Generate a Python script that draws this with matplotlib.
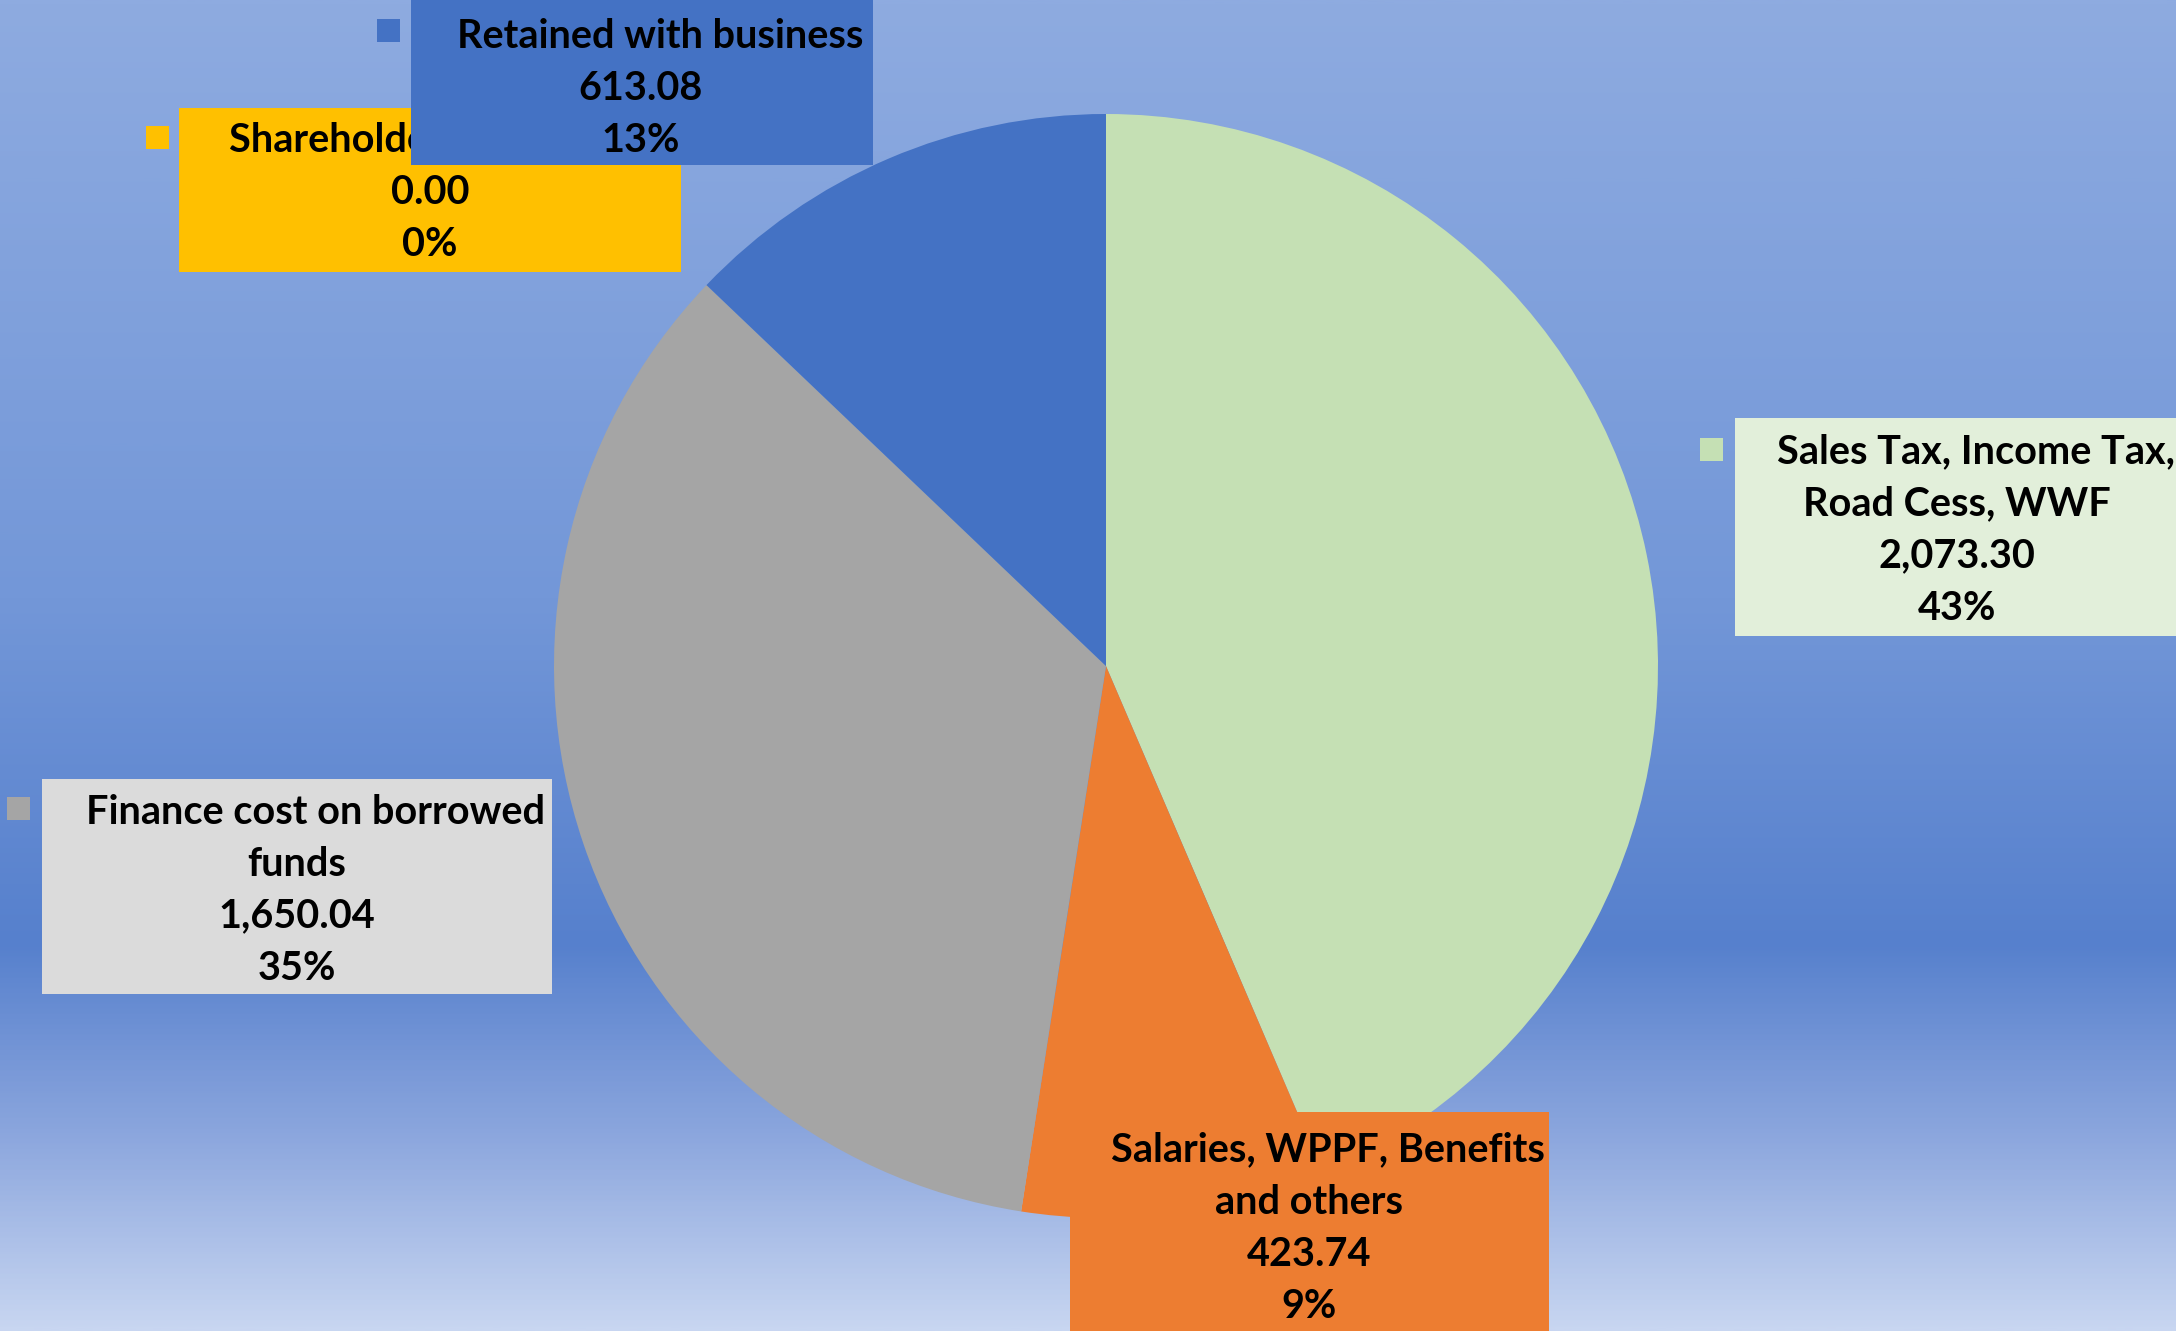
import numpy as np
import matplotlib
matplotlib.use("Agg")
import matplotlib.pyplot as plt
from matplotlib.patches import Rectangle
from matplotlib.colors import LinearSegmentedColormap

# data, clockwise from 12 o'clock
labels = ['Sales Tax, Income Tax,\nRoad Cess, WWF',
          'Salaries, WPPF, Benefits\nand others',
          'Finance cost on borrowed\nfunds',
          'Shareholders as dividend',
          'Retained with business']
values = [2073.30, 423.74, 1650.04, 0.00, 613.08]
pct_labels = ['43%', '9%', '35%', '0%', '13%']
colors = ['#c5e0b4', '#ed7d31', '#a5a5a5', '#ffc000', '#4472c4']
box_colors = ['#e2efda', '#ed7d31', '#dbdbdb', '#ffc000', '#4472c4']

W, H = 2176, 1331
fig = plt.figure(figsize=(W / 100, H / 100), dpi=100)
ax = fig.add_axes([0, 0, 1, 1])

# background gradient (top -> bottom)
bg = LinearSegmentedColormap.from_list('bg', [
    (0.0, '#8eabe0'),
    (0.45, '#7397d8'),
    (0.71, '#5680cd'),
    (0.85, '#8aa5dd'),
    (1.0, '#c8d6f1')])
grad = np.linspace(0, 1, 512).reshape(-1, 1)
ax.imshow(grad, cmap=bg, aspect='auto', origin='upper',
          extent=[0, W, 0, H], zorder=0)

ax.pie(values, colors=colors, startangle=90, counterclock=False,
       center=(1106, H - 666), radius=552, frame=True,
       wedgeprops=dict(linewidth=0))
ax.set_xlim(0, W)
ax.set_ylim(0, H)
ax.set_aspect('equal')
ax.axis('off')

# label boxes: (x0, y0_top, x1, y1_bottom) in pixels from top-left, marker x,y
boxes = [
    (1735, 418, 2180, 636, 1700, 438),
    (1070, 1112, 1549, 1335, None, None),
    (42, 779, 552, 994, 7, 797),
    (179, 108, 681, 272, 146, 126),
    (411, 0, 873, 165, 377, 19),
]
centers = [(1957, 530), (1309, 1228), (297, 890), (430, 193), (641, 88)]
step = 52
for i in range(len(values)):
    x0, y0, x1, y1, mx, my = boxes[i]
    ax.add_patch(Rectangle((x0, H - y1), x1 - x0, y1 - y0,
                           facecolor=box_colors[i], edgecolor='none', zorder=3 + i))
    if mx is not None:
        ax.add_patch(Rectangle((mx, H - my - 23), 23, 23,
                               facecolor=colors[i], edgecolor='none', zorder=3 + i))
    lines = labels[i].split('\n') + [f'{values[i]:,.2f}', pct_labels[i]]
    n = len(lines)
    cx, cy = centers[i]
    for k, s in enumerate(lines):
        yy = cy + (k - (n - 1) / 2) * step
        xx = cx + (19 if k == 0 else 0)
        ax.text(xx, H - yy, s, ha='center', va='center', fontsize=28.5,
                fontfamily='Lato', fontweight='bold', color='black', zorder=3 + i)

fig.savefig('out.png', dpi=100)
